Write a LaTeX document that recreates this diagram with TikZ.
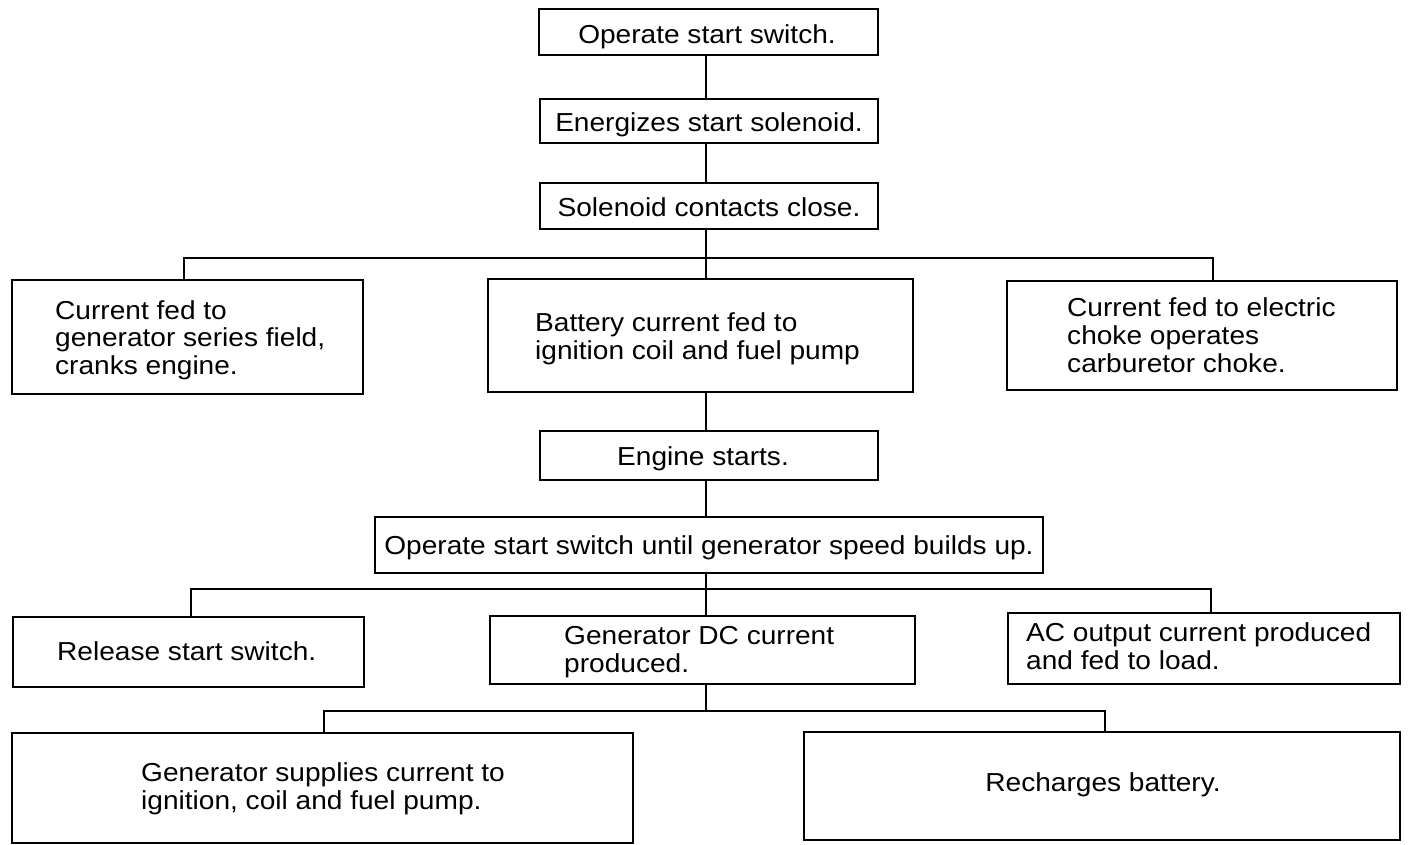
\documentclass[tikz,border=0pt]{standalone}
\usepackage{fontspec}
\setmainfont{Liberation Sans}[FakeStretch=1.08]
\begin{document}
\begin{tikzpicture}[x=1pt,y=-1pt,
  box/.style={draw, rectangle, inner sep=0pt, line width=2.2pt},
  txt/.style={font=\fontsize{26}{27.6}\selectfont, inner sep=0pt, align=left, anchor=base west},
  ctxt/.style={txt, anchor=base},
  link/.style={line width=2.5pt}]
\path[fill=white] (0,0) rectangle (1408,844);
\useasboundingbox (0,0) rectangle (1408,844);

% boxes
\node[box, minimum width=339pt, minimum height=46pt] (b1) at (708.5,32) {};
\node[box, minimum width=338pt, minimum height=44pt] (b2) at (709,121) {};
\node[box, minimum width=338pt, minimum height=46pt] (b3) at (709,206) {};
\node[box, minimum width=351pt, minimum height=114pt] (b4) at (187.5,337) {};
\node[box, minimum width=425pt, minimum height=113pt] (b5) at (700.5,335.5) {};
\node[box, minimum width=390pt, minimum height=109pt] (b6) at (1202,335.5) {};
\node[box, minimum width=338pt, minimum height=49pt] (b7) at (709,455.5) {};
\node[box, minimum width=668pt, minimum height=56pt] (b8) at (709,545) {};
\node[box, minimum width=351pt, minimum height=70pt] (b9) at (188.3,652) {};
\node[box, minimum width=425pt, minimum height=68pt] (b10) at (702.5,650) {};
\node[box, minimum width=392pt, minimum height=71pt] (b11) at (1204,648.5) {};
\node[box, minimum width=621pt, minimum height=110pt] (b12) at (322.5,788) {};
\node[box, minimum width=596pt, minimum height=108pt] (b13) at (1102,786) {};

% texts (multi-line nodes anchored at the baseline of their last line)
\node[ctxt] (t1) at (707,43) {Operate start switch.};
\node[ctxt] (t2) at (709,131.7) {Energizes start solenoid.};
\node[ctxt] (t3) at (709,216.7) {Solenoid contacts close.};
\node[txt] (t4) at (55,374.5) {Current fed to\\generator series field,\\cranks engine.};
\node[txt] (t5) at (535,359.5) {Battery current fed to\\ignition coil and fuel pump};
\node[txt] (t6) at (1067,372) {Current fed to electric\\choke operates\\carburetor choke.};
\node[ctxt] (t7) at (703,465) {Engine starts.};
\node[ctxt] (t8) at (709,554) {Operate start switch until generator speed builds up.};
\node[txt] (t9) at (57,660.7) {Release start switch.};
\node[txt] (t10) at (564,672.5) {Generator DC current\\produced.};
\node[txt] (t11) at (1026,669.5) {AC output current produced\\and fed to load.};
\node[txt] (t12) at (141,809.5) {Generator supplies current to\\ignition, coil and fuel pump.};
\node[ctxt] (t13) at (1103,791.7) {Recharges battery.};

% connectors
\coordinate (T) at (706,0);
\coordinate (j1) at (706,258);
\coordinate (j2) at (706,589);
\coordinate (j3) at (706,711);
\draw[link] (b1.south -| T) -- (b2.north -| T);
\draw[link] (b2.south -| T) -- (b3.north -| T);
\draw[link] (b3.south -| T) -- (b5.north -| T);
\draw[link] ([xshift=-3.5pt]b4.north) |- (j1) -| ([xshift=11pt]b6.north);
\draw[link] (b5.south -| T) -- (b7.north -| T);
\draw[link] (b7.south -| T) -- (b8.north -| T);
\draw[link] (b8.south -| T) -- (b10.north -| T);
\draw[link] ([xshift=2.7pt]b9.north) |- (j2) -| ([xshift=7pt]b11.north);
\draw[link] (b10.south -| T) -- (j3);
\draw[link] ([xshift=1.5pt]b12.north) |- (j3) -| ([xshift=3pt]b13.north);
\end{tikzpicture}
\end{document}
